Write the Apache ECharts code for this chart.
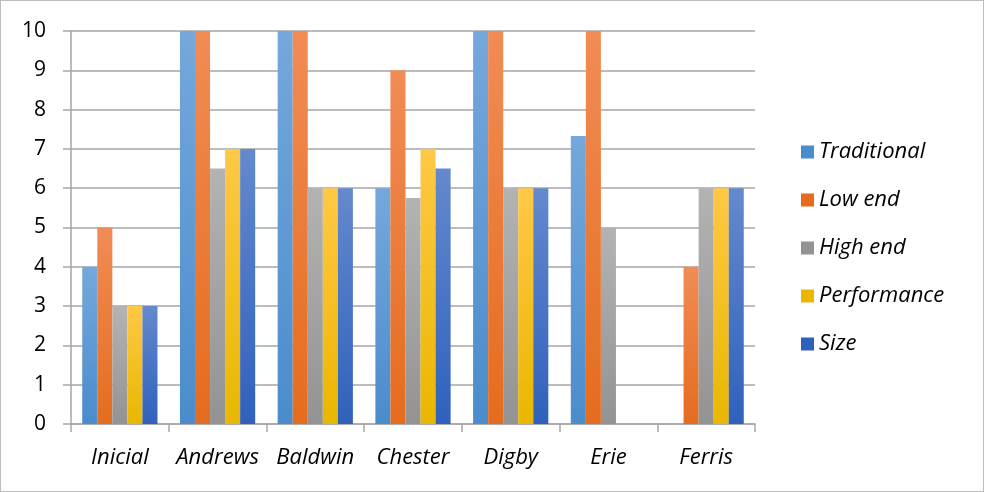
<!DOCTYPE html>
<html lang="en">
<head>
    <meta charset="UTF-8">
    <title>Segments</title>
    <style>
        html, body { margin: 0; padding: 0; background: #fff; }
        #chart { width: 984px; height: 492px; box-sizing: border-box; border: 1.5px solid #bdbdbd; }
    </style>
</head>
<body>
    <div id="chart"></div>
    <script src="https://cdn.jsdelivr.net/npm/echarts@6/dist/echarts.min.js"></script>
    <script>
        var categories = ['Inicial', 'Andrews', 'Baldwin', 'Chester', 'Digby', 'Erie', 'Ferris'];
        var traditional = [4, 10, 10, 6, 10, 7.33, null];
        var lowEnd = [5, 10, 10, 9, 10, 10, 4];
        var highEnd = [3, 6.5, 6, 5.75, 6, 5, 6];
        var performance = [3, 7, 6, 7, 6, null, 6];
        var size = [3, 7, 6, 6.5, 6, null, 6];
        var yTicks = [0, 1, 2, 3, 4, 5, 6, 7, 8, 9, 10];

        var font = '"Open Sans", sans-serif';

        // excel-like vertical gradients
        function grad(top, bottom) {
            return new echarts.graphic.LinearGradient(0, 0, 0, 1, [
                { offset: 0, color: top },
                { offset: 1, color: bottom }
            ]);
        }

        var styles = [
            ['Traditional', traditional, '#75a8dc', '#4a8ccc'],
            ['Low end', lowEnd, '#f18c55', '#e56c1e'],
            ['High end', highEnd, '#b3b3b3', '#939393'],
            ['Performance', performance, '#ffc846', '#e9b700'],
            ['Size', size, '#6489cd', '#2f61bc']
        ];

        var series = styles.map(function (s) {
            return {
                name: s[0],
                type: 'bar',
                data: s[1],
                barGap: 0,
                barCategoryGap: '23%',
                itemStyle: { color: grad(s[2], s[3]) }
            };
        });

        var chart = echarts.init(document.getElementById('chart'));
        chart.setOption({
            animation: false,
            backgroundColor: '#fff',
            grid: { left: 70, right: 228, top: 30, bottom: 67 },
            legend: {
                orient: 'vertical',
                left: 795,
                top: 135,
                itemWidth: 13,
                itemHeight: 13,
                itemGap: 26,
                icon: 'rect',
                textStyle: { fontFamily: font, fontStyle: 'italic', fontSize: 22, color: '#000', padding: [0, 0, 0, 0] },
                data: styles.map(function (s) {
                    return { name: s[0], itemStyle: { color: s[3] } };
                })
            },
            xAxis: {
                type: 'category',
                data: categories,
                axisLine: { lineStyle: { color: '#a6a6a6', width: 1.5 } },
                axisTick: { show: true, length: 8, lineStyle: { color: '#a6a6a6', width: 1.5 } },
                axisLabel: { interval: 0, fontFamily: font, fontStyle: 'italic', fontSize: 22, color: '#000', margin: 23 }
            },
            yAxis: {
                type: 'value',
                min: yTicks[0],
                max: yTicks[yTicks.length - 1],
                interval: 1,
                axisLine: { show: true, lineStyle: { color: '#a6a6a6', width: 1.5 } },
                axisTick: { show: true, length: 8, lineStyle: { color: '#a6a6a6', width: 1.5 } },
                axisLabel: { fontFamily: font, fontSize: 21, color: '#000', margin: 25 },
                splitLine: { lineStyle: { color: '#a6a6a6', width: 1.5 } }
            },
            series: series
        });
    </script>
</body>
</html>
